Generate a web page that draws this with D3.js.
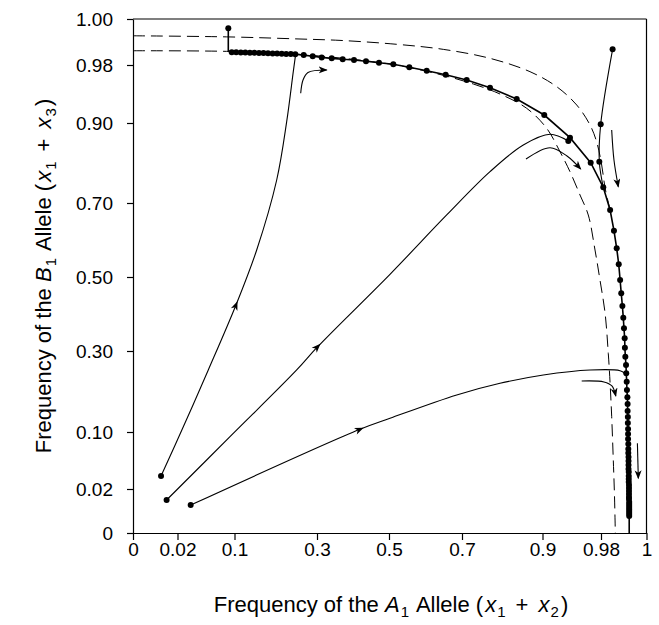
<!DOCTYPE html>
<html><head><meta charset="utf-8">
<script src="https://cdn.jsdelivr.net/npm/d3@7/dist/d3.min.js"></script>
<style>body{margin:0;background:#fff}svg{display:block}</style>
</head><body><svg id="chart" width="659" height="625"></svg>
<script>
// ---------- data ----------
const tickValues = [0, 0.02, 0.1, 0.3, 0.5, 0.7, 0.9, 0.98, 1];
const xTickLabels = ["0", "0.02", "0.1", "0.3", "0.5", "0.7", "0.9", "0.98", "1"];
const yTickLabels = ["0", "0.02", "0.10", "0.30", "0.50", "0.70", "0.90", "0.98", "1.00"];

// main simulated trajectory (dots), [A1 freq, B1 freq]
const mainStart = [0.0913, 0.9960];
const mainCorner = [0.0913, 0.9861];
const mainDots = [
  [0.0961,0.9855],[0.1041,0.9855],[0.1153,0.9854],[0.1262,0.9854],[0.1373,0.9853],[0.1482,0.9853],
  [0.1594,0.9852],[0.1703,0.9852],[0.1812,0.9851],[0.1924,0.9850],[0.2033,0.9850],[0.2144,0.9849],
  [0.2253,0.9848],[0.2365,0.9848],[0.2474,0.9847],[0.2678,0.9843],[0.2896,0.9838],[0.3131,0.9833],
  [0.3408,0.9829],[0.3714,0.9825],[0.4028,0.9822],[0.4361,0.9816],[0.4722,0.9810],[0.5118,0.9803],
  [0.5556,0.9768],[0.6033,0.9721],[0.6553,0.9666],[0.7117,0.9593],[0.7696,0.9487],[0.8359,0.9331],
  [0.9024,0.9110],[0.9376,0.8633],[0.9659,0.8008],[0.9810,0.7393],[0.9840,0.6811],[0.9857,0.6251],
  [0.9869,0.5776],[0.9878,0.5343],[0.9884,0.4919],[0.9889,0.4559],[0.9894,0.4216],[0.9898,0.3900],
  [0.9901,0.3614],[0.9904,0.3343],[0.9905,0.3089],[0.9907,0.2859],[0.9910,0.2654],[0.9911,0.2449],
  [0.9913,0.2242],[0.9914,0.2037],[0.9916,0.1857],[0.9917,0.1691],[0.9917,0.1519],[0.9918,0.1370],
  [0.9918,0.1222],[0.9919,0.1074],[0.9919,0.0972],[0.9919,0.0902],[0.9920,0.0832],[0.9920,0.0761],
  [0.9920,0.0705],[0.9921,0.0649],[0.9921,0.0593],[0.9921,0.0537],[0.9921,0.0481],[0.9922,0.0439],
  [0.9922,0.0382],[0.9922,0.0340],[0.9922,0.0298],[0.9923,0.0256],[0.9923,0.0214],[0.9923,0.0191],
  [0.9923,0.0177],[0.9923,0.0164],[0.9923,0.0155],[0.9924,0.0141],[0.9924,0.0132],[0.9924,0.0123],
  [0.9924,0.0114],[0.9924,0.0105],[0.9924,0.0095],[0.9924,0.0086],[0.9924,0.0077]
];
const mainEnd = [0.9924, 0];

// thin solid trajectories (start dot first)
const trajA = [[0.0126,0.0382],[0.0305,0.1222],[0.0632,0.2531],[0.1036,0.4243],[0.1538,0.5730],
  [0.2023,0.7575],[0.2265,0.9018],[0.2425,0.9708],[0.2483,0.9847]];
const trajB = [[0.0151,0.0150],[0.0937,0.0934],[0.2508,0.2531],[0.3019,0.3116],[0.5027,0.5073],
  [0.6581,0.6676],[0.7696,0.7783],[0.8523,0.8450],[0.9103,0.8718],[0.9353,0.8550]];
const trajC = [[0.0385,0.0127],[0.4194,0.1067],[0.5027,0.1338],[0.6855,0.1914],[0.7944,0.2202],
  [0.9011,0.2407],[0.9650,0.2531],[0.9884,0.2514],[0.9905,0.2449]];
const trajD = [[0.9851,0.9868],[0.9796,0.8968],[0.9777,0.8033],[0.9810,0.7393]];
const trajDDots = [[0.9851,0.9868],[0.9796,0.8968],[0.9777,0.8033]];

// dashed curves
const dashOuter = [[0,0.9927],[0.0937,0.9922],[0.2588,0.9913],[0.3639,0.9907],[0.5211,0.9890],
  [0.6488,0.9868],[0.7696,0.9829],[0.8689,0.9708],[0.9194,0.9501],[0.9468,0.9248],[0.9650,0.8950],
  [0.9741,0.8525],[0.9803,0.7950],[0.9818,0.7375],[0.9840,0.6811]];
const dashInner = [[0,0.9862],[0.0937,0.9859],[0.2588,0.9846],[0.5110,0.9802],[0.6397,0.9669],
  [0.7281,0.9538],[0.7944,0.9400],[0.8607,0.9203],[0.9057,0.8868],[0.9239,0.8283],[0.9376,0.7783],
  [0.9513,0.7200],[0.9626,0.6676],[0.9718,0.5730],[0.9786,0.4919],[0.9818,0.4019],[0.9832,0.2943],
  [0.9840,0.2202],[0.9847,0.1378],[0.9854,0.0607],[0.9859,0.0180],[0.9863,0]];

// small direction arrows
const arrows = [
  [[0.2605,0.9410],[0.2661,0.9593],[0.2782,0.9697],[0.3269,0.9731]],
  [[0.8590,0.8100],[0.9103,0.8383],[0.9335,0.8175],[0.9522,0.7850]],
  [[0.9536,0.2259],[0.9813,0.2235],[0.9848,0.2136],[0.9865,0.1889]],
  [[0.9847,0.8825],[0.9857,0.8075],[0.9876,0.7408]],
  [[0.9960,0.0841],[0.9964,0.0350]]
];
// arrowheads placed along trajectories: [trajectory, point index]
const midArrows = [[trajA, 3], [trajB, 3], [trajC, 1]];

// ---------- chart ----------
const svg = d3.select("#chart");
const xPos = [133, 177.5, 234.5, 317, 389, 462, 542.5, 601, 646.5];
const yPos = [533, 489, 432, 351, 277, 203, 123, 65, 19];
const x = d3.scaleLinear().domain(tickValues).range(xPos);
const y = d3.scaleLinear().domain(tickValues).range(yPos);
const FONT = "Liberation Sans, Arial, Helvetica, sans-serif";

svg.append("defs").append("marker")
  .attr("id", "ah").attr("markerUnits", "userSpaceOnUse")
  .attr("markerWidth", 10).attr("markerHeight", 8)
  .attr("refX", 8).attr("refY", 3.5).attr("orient", "auto")
  .append("path").attr("d", "M0,0 L9,3.5 L0,7 L2.5,3.5 Z").attr("fill", "#000");

// frame
svg.append("line").attr("x1", x(0)).attr("x2", x(1)).attr("y1", y(1)).attr("y2", y(1))
  .attr("stroke", "#000").attr("stroke-width", 1.2);
svg.append("line").attr("x1", x(1)).attr("x2", x(1)).attr("y1", y(1)).attr("y2", y(0))
  .attr("stroke", "#000").attr("stroke-width", 1.2);

const xAxis = svg.append("g").attr("transform", `translate(0,${y(0)})`)
  .call(d3.axisBottom(x).tickValues(tickValues).tickFormat((d, i) => xTickLabels[i])
    .tickSize(7).tickSizeOuter(0).tickPadding(3));
const yAxis = svg.append("g").attr("transform", `translate(${x(0)},0)`)
  .call(d3.axisLeft(y).tickValues(tickValues).tickFormat((d, i) => yTickLabels[i])
    .tickSize(6).tickSizeOuter(0).tickPadding(14));
[xAxis, yAxis].forEach(g => {
  g.select(".domain").attr("stroke", "#000").attr("stroke-width", 1.2);
  g.selectAll(".tick line").attr("stroke", "#000").attr("stroke-width", 1.2);
  g.selectAll(".tick text").attr("font-family", FONT).attr("font-size", 19).attr("fill", "#000");
});

const line = d3.line().x(d => x(d[0])).y(d => y(d[1])).curve(d3.curveCatmullRom.alpha(0.5));
const lineLin = d3.line().x(d => x(d[0])).y(d => y(d[1]));

// dashed curves
[dashOuter, dashInner].forEach(pts => {
  svg.append("path").attr("d", line(pts)).attr("fill", "none")
    .attr("stroke", "#000").attr("stroke-width", 1).attr("stroke-dasharray", "12,6");
});

// thin trajectories
[trajA, trajB, trajC, trajD].forEach(pts => {
  svg.append("path").attr("d", line(pts)).attr("fill", "none")
    .attr("stroke", "#000").attr("stroke-width", 1.1);
});

// main trajectory
const mainPath = [mainStart, mainCorner].concat(mainDots, [mainEnd]);
svg.append("path").attr("d", lineLin(mainPath)).attr("fill", "none")
  .attr("stroke", "#000").attr("stroke-width", 1.6);

// dots
const allDots = [mainStart].concat(mainDots, trajDDots,
  [trajA[0], trajB[0], trajC[0], trajB[trajB.length - 1]]);
svg.append("g").selectAll("circle").data(allDots).join("circle")
  .attr("cx", d => x(d[0])).attr("cy", d => y(d[1])).attr("r", 3).attr("fill", "#000");

// direction arrows
arrows.forEach(pts => {
  svg.append("path").attr("d", line(pts)).attr("fill", "none")
    .attr("stroke", "#000").attr("stroke-width", 1.1).attr("marker-end", "url(#ah)");
});

// arrowheads along trajectories
midArrows.forEach(([pts, i]) => {
  const p0 = pts[i - 1], p1 = pts[i], p2 = pts[i + 1];
  const ang = Math.atan2(y(p2[1]) - y(p0[1]), x(p2[0]) - x(p0[0])) * 180 / Math.PI;
  svg.append("path").attr("d", "M-5,-3.5 L4,0 L-5,3.5 L-2.5,0 Z").attr("fill", "#000")
    .attr("transform", `translate(${x(p1[0])},${y(p1[1])}) rotate(${ang})`);
});

// axis titles
function title(sel, letter, last) {
  const S = 15, D = 5;
  sel.append("tspan").text("Frequency of the ");
  sel.append("tspan").attr("font-style", "italic").text(letter);
  sel.append("tspan").attr("font-size", S).attr("dy", D).attr("dx", 1).text("1");
  sel.append("tspan").attr("dy", -D).attr("dx", 2).text(" Allele (");
  sel.append("tspan").attr("font-style", "italic").attr("dx", 2).text("x");
  sel.append("tspan").attr("font-size", S).attr("dy", D).attr("dx", 1).text("1");
  sel.append("tspan").attr("dy", -D).attr("dx", 4).text(" + ");
  sel.append("tspan").attr("font-style", "italic").attr("dx", 4).text("x");
  sel.append("tspan").attr("font-size", S).attr("dy", D).attr("dx", 1).text(last);
  sel.append("tspan").attr("dy", -D).attr("dx", 2).text(")");
}
const xt = svg.append("text").attr("x", 391).attr("y", 612).attr("text-anchor", "middle")
  .attr("font-family", FONT).attr("font-size", 22).attr("fill", "#000");
title(xt, "A", "2");
const yt = svg.append("text").attr("transform", "translate(51,276) rotate(-90)")
  .attr("text-anchor", "middle").attr("font-family", FONT).attr("font-size", 22).attr("fill", "#000");
title(yt, "B", "3");
</script></body></html>
